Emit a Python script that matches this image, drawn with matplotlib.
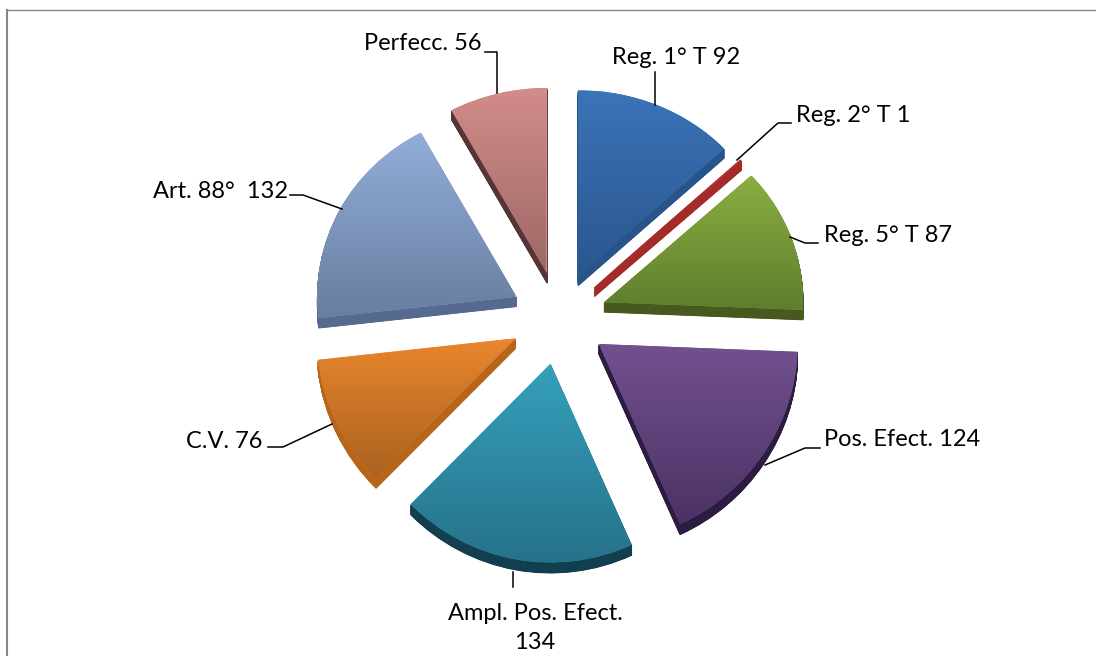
#Exploded pie with a fake 3d look
from matplotlib import pyplot as plt
from matplotlib.colors import LinearSegmentedColormap
from matplotlib.lines import Line2D
import numpy as np

names = ['Reg. 1° T', 'Reg. 2° T', 'Reg. 5° T', 'Pos. Efect.', 'Ampl. Pos. Efect.\n', 'C.V.', 'Art. 88° ', 'Perfecc.']
values = [92, 1, 87, 124, 134, 76, 132, 56]
top_colors = ['#3b74b8', '#bb3532', '#8bae41', '#72518f', '#35a1bd', '#ea862e', '#93aeda', '#d38c8a']
low_colors = ['#2a568f', '#7e2322', '#5f7e2d', '#4b3265', '#27728a', '#a9621f', '#687e9f', '#9c6966']
side_colors = ['#29548a', '#a32b29', '#47591f', '#2d1c42', '#123f4f', '#b8651c', '#56698f', '#553535']

W, H = 1096, 656
CX, CY = 559, 318
RX = 199
RY, TILT = 192, 4.5  #back of the pie looks smaller than the front
DEPTH = 10


def to_px(y):
    return y * (RY - TILT * y)


def from_px(d):
    return (RY - np.sqrt(np.maximum(RY ** 2 - 4 * TILT * d, 0))) / (2 * TILT)


fig = plt.figure(figsize=(W / 100, H / 100), dpi=100)
ax = fig.add_axes([0, 0, 1, 1])
explode = [48 / RX] * len(values)

#side of the slices, same pie pushed down a little at a time
for d in np.linspace(DEPTH / RY, 1 / RY, 25):
    side, _ = ax.pie(values, explode=explode, startangle=90, counterclock=False,
                     colors=side_colors, center=(0, -d))
    for s in side:
        s.set_edgecolor(s.get_facecolor())
        s.set_linewidth(0.6)

wedges, _ = ax.pie(values, explode=explode, startangle=90, counterclock=False,
                   colors=top_colors)

grad = np.linspace(0, 1, 256).reshape(-1, 1)
for w, c1, c2 in zip(wedges, top_colors, low_colors):
    box = w.get_path().get_extents(w.get_patch_transform())
    cmap = LinearSegmentedColormap.from_list('g', [c1, c2])
    im = ax.imshow(grad, cmap=cmap, aspect='auto', zorder=3, origin='upper',
                   extent=(box.x0, box.x1, box.y0, box.y1))
    im.set_clip_path(w)

ax.set_aspect('auto')
ax.set_yscale('function', functions=(to_px, from_px))
ax.set_xlim(-CX / RX, (W - CX) / RX)
ax.set_ylim(from_px(-(H - CY)), from_px(CY))
ax.axis('off')


def fx(px):
    return px / W


def fy(py):
    return 1 - py / H


def leader(xs, ys):
    fig.add_artist(Line2D([fx(a) for a in xs], [fy(b) for b in ys],
                          color='black', lw=1.1, zorder=5))


#leaders
leader([655, 655], [105, 72])
leader([737, 778, 791], [160, 123, 123])
leader([790, 805, 818], [237, 243, 243])
leader([765, 805, 820], [465, 448, 448])
leader([513, 513], [572, 587])
leader([332, 283, 268], [424, 447, 447])
leader([342, 303, 290], [209, 195, 195])
leader([497, 497, 485], [93, 52, 52])

#labels
label_pos = [(676, 58, 'center'), (796, 116, 'left'), (824, 236, 'left'), (824, 440, 'left'),
             (535, 628, 'center'), (263, 442, 'right'), (288, 191, 'right'), (482, 44, 'right')]
for name, val, (lx, ly, ha) in zip(names, values, label_pos):
    sep = '' if name.endswith('\n') else ' '
    fig.text(fx(lx), fy(ly), name + sep + str(val), ha=ha, va='center', multialignment='center',
             fontsize=17, family='Lato', color='black', linespacing=1.5)

#chart area border, runs off the picture on the right and bottom
fig.add_artist(Line2D([fx(1096), fx(7)], [fy(10), fy(10)], color='#868686', lw=1.0))
fig.add_artist(Line2D([fx(7), fx(7)], [fy(10), fy(656)], color='#868686', lw=1.5))

fig.savefig('out.png', dpi=100)
